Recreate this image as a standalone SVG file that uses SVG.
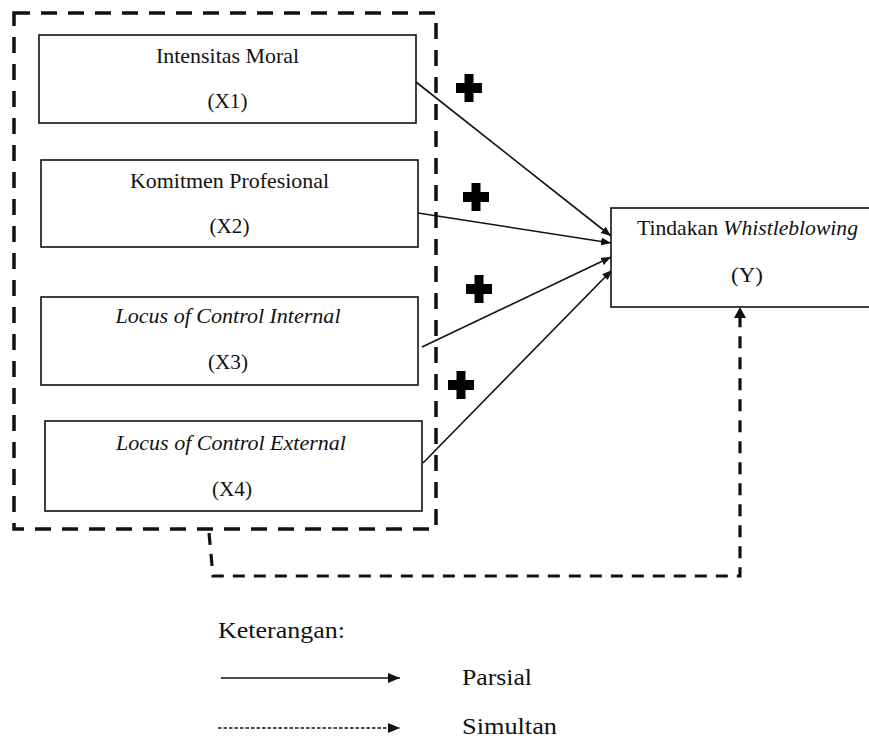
<svg xmlns="http://www.w3.org/2000/svg" width="869" height="738" viewBox="0 0 869 738">
<style>
  .box { fill: #fff; stroke: #111; stroke-width: 1.6; }
  .t { font-size: 21px; fill: #111; text-anchor: middle; }
  .it { font-style: italic; }
  .lg { font-size: 24px; fill: #111; }
  .solid { fill: none; stroke: #111; stroke-width: 1.6; }
  .dash { fill: none; stroke: #111; stroke-width: 3.5; stroke-dasharray: 16 11; }
  .dconn { fill: none; stroke: #111; stroke-width: 3.2; stroke-dasharray: 12 9; }
  .plus { fill: #000; }
</style>
<defs>
  <marker id="ah" viewBox="0 0 10 8" refX="10" refY="4" markerWidth="10" markerHeight="8" markerUnits="userSpaceOnUse" orient="auto">
    <path d="M0,0 L10,4 L0,8 Z" fill="#111"/>
  </marker>
  <marker id="ahBig" viewBox="0 0 12 10" refX="12" refY="5" markerWidth="12" markerHeight="10" markerUnits="userSpaceOnUse" orient="auto">
    <path d="M0,0 L12,5 L0,10 Z" fill="#111"/>
  </marker>
  <path id="plusShape" d="M-4.5,-14 H4.5 V-5 H13 V5 H4.5 V14 H-4.5 V5 H-13 V-5 H-4.5 Z"/>
</defs>
<rect width="869" height="738" fill="#fff"/>

<g id="group-x">
  <rect class="dash" x="14" y="13" width="422" height="516"/>
</g>

<g id="connectors">
  <line class="solid" x1="416" y1="82" x2="611" y2="236" marker-end="url(#ah)"/>
  <line class="solid" x1="418" y1="213" x2="611" y2="243" marker-end="url(#ah)"/>
  <line class="solid" x1="422" y1="347" x2="611" y2="257" marker-end="url(#ah)"/>
  <line class="solid" x1="423" y1="463" x2="612" y2="270" marker-end="url(#ah)"/>
  <path class="dconn" d="M209,533 L213,576 L740,576 L740,318"/>
  <path d="M734,318 L746,318 L740,307 Z" fill="#111"/>
</g>

<g id="signs">
  <use href="#plusShape" class="plus" x="469" y="88"/>
  <use href="#plusShape" class="plus" x="476" y="197"/>
  <use href="#plusShape" class="plus" x="479" y="289"/>
  <use href="#plusShape" class="plus" x="461" y="385"/>
</g>

<g font-family="'Liberation Serif', 'Times New Roman', Times, serif">
<g id="x1">
  <rect class="box" x="39" y="35" width="377" height="88"/>
  <text class="t" x="227.5" y="63" textLength="143" lengthAdjust="spacingAndGlyphs">Intensitas Moral</text>
  <text class="t" x="227.5" y="108" textLength="40" lengthAdjust="spacingAndGlyphs">(X1)</text>
</g>
<g id="x2">
  <rect class="box" x="41" y="160" width="377" height="87"/>
  <text class="t" x="229.5" y="188" textLength="199" lengthAdjust="spacingAndGlyphs">Komitmen Profesional</text>
  <text class="t" x="229.5" y="233" textLength="40" lengthAdjust="spacingAndGlyphs">(X2)</text>
</g>
<g id="x3">
  <rect class="box" x="41" y="297" width="377" height="88"/>
  <text class="t it" x="228" y="323" textLength="225" lengthAdjust="spacingAndGlyphs">Locus of Control Internal</text>
  <text class="t" x="228" y="369" textLength="40" lengthAdjust="spacingAndGlyphs">(X3)</text>
</g>
<g id="x4">
  <rect class="box" x="45" y="421" width="377" height="90"/>
  <text class="t it" x="231" y="450" textLength="230" lengthAdjust="spacingAndGlyphs">Locus of Control External</text>
  <text class="t" x="232" y="496" textLength="40" lengthAdjust="spacingAndGlyphs">(X4)</text>
</g>
<g id="y">
  <rect class="box" x="611" y="208" width="280" height="99"/>
  <text class="t" x="747.5" y="235" textLength="221" lengthAdjust="spacingAndGlyphs">Tindakan <tspan class="it">Whistleblowing</tspan></text>
  <text class="t" x="747" y="282" textLength="32" lengthAdjust="spacingAndGlyphs">(Y)</text>
</g>

<g id="legend">
  <text class="lg" x="218" y="638" textLength="127" lengthAdjust="spacingAndGlyphs">Keterangan:</text>
  <line class="solid" x1="221" y1="678" x2="400" y2="678" marker-end="url(#ahBig)"/>
  <line x1="218" y1="728" x2="400" y2="728" stroke="#111" stroke-width="1.4" stroke-dasharray="3.5 2" marker-end="url(#ahBig)"/>
  <text class="lg" x="462" y="685" textLength="70" lengthAdjust="spacingAndGlyphs">Parsial</text>
  <text class="lg" x="462" y="734" textLength="95" lengthAdjust="spacingAndGlyphs">Simultan</text>
</g>
</g>
</svg>
